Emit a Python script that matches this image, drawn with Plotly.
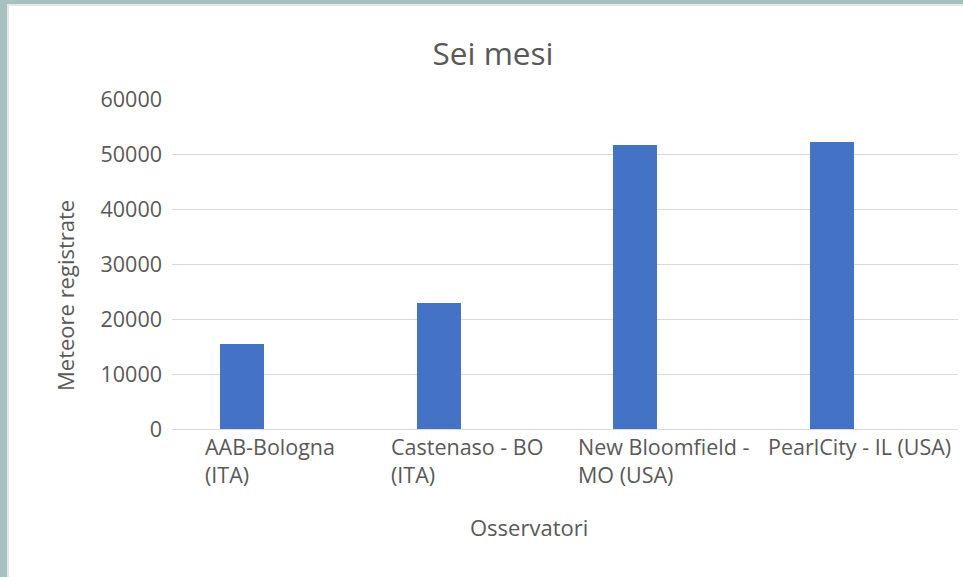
import plotly.graph_objects as go

categories = ["AAB-Bologna<br>(ITA)", "Castenaso - BO<br>(ITA)", "New Bloomfield -<br>MO (USA)", "PearlCity - IL (USA)"]
values = [15400, 23000, 51600, 52100]
y_ticks = [0, 10000, 20000, 30000, 40000, 50000, 60000]

W, H = 963, 577
L, R, T, B = 172, 5, 99, 148
pw, ph = W - L - R, H - T - B

def px_x(x):
    return (x - L) / pw

def px_y(y):
    return (H - B - y) / ph

FONT = "Open Sans"
GRAY = "#595959"

fig = go.Figure()
fig.add_trace(go.Bar(
    x=categories, y=values,
    marker=dict(color="#4472c4", line=dict(width=0)),
    width=0.224, offset=-0.254,
    hoverinfo="x+y",
))

annotations = []
for c in categories:
    annotations.append(dict(
        x=c, y=0, xref="x", yref="y", text=c, showarrow=False,
        align="left", xanchor="center", yanchor="top", yshift=-1,
        font=dict(family=FONT, size=21.5, color=GRAY),
    ))
annotations.append(dict(
    x=px_x(65), y=px_y(296), xref="paper", yref="paper",
    text="Meteore registrate", textangle=-90, showarrow=False,
    xanchor="center", yanchor="middle",
    font=dict(family=FONT, size=22, color=GRAY),
))
annotations.append(dict(
    x=px_x(529), y=px_y(527), xref="paper", yref="paper",
    text="Osservatori", showarrow=False,
    xanchor="center", yanchor="middle",
    font=dict(family=FONT, size=22, color=GRAY),
))

shapes = [
    dict(type="rect", xref="paper", yref="paper", layer="below",
         x0=px_x(7), x1=px_x(W + 5), y0=px_y(H + 5), y1=px_y(4),
         fillcolor="#e6e6e6", line=dict(width=0)),
    dict(type="rect", xref="paper", yref="paper", layer="below",
         x0=px_x(9), x1=px_x(W + 5), y0=px_y(H + 5), y1=px_y(6),
         fillcolor="white", line=dict(width=0)),
]

fig.update_layout(
    width=W, height=H,
    margin=dict(l=L, r=R, t=T, b=B, pad=0),
    paper_bgcolor="#a9c0c1",
    plot_bgcolor="rgba(0,0,0,0)",
    showlegend=False,
    bargap=0,
    title=dict(text="Sei mesi", x=493 / W, xanchor="center", xref="container",
               y=1 - 54 / H, yanchor="middle", yref="container",
               font=dict(family=FONT, size=31.5, color=GRAY)),
    xaxis=dict(showticklabels=False, showgrid=False, zeroline=False,
               showline=False, ticks=""),
    yaxis=dict(range=[0, 60000], tickvals=y_ticks, ticktext=[str(v) for v in y_ticks],
               showgrid=True, gridcolor="#d9d9d9", gridwidth=1,
               zeroline=True, zerolinecolor="#d9d9d9", zerolinewidth=1,
               showline=False, ticks="", ticklabelstandoff=9,
               tickfont=dict(family=FONT, size=21.5, color=GRAY)),
    annotations=annotations,
    shapes=shapes,
)

fig.write_html("out.html")
